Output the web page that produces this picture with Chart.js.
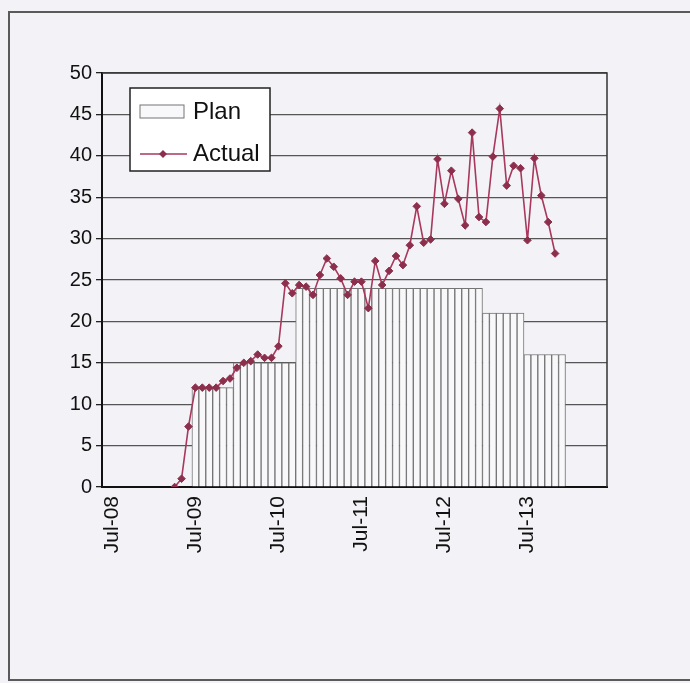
<!DOCTYPE html>
<html>
<head>
<meta charset="utf-8">
<script src="https://cdn.jsdelivr.net/npm/chart.js@4.4.1/dist/chart.umd.min.js"></script>
<style>
html, body { margin: 0; padding: 0; background: #f3f3f7; }
#wrap { position: relative; width: 690px; height: 683px; overflow: hidden; }
#frame { position: absolute; left: 8px; top: 11px; width: 700px; height: 670px; border: 2px solid #5a5a5a; box-sizing: border-box; }
#planChart { position: absolute; left: 0; top: 0; }
</style>
</head>
<body>
<div id="wrap">
  <div id="frame"></div>
  <canvas id="planChart" width="690" height="683"></canvas>
</div>
<script>
// months on the category axis, Jun-08 .. Jun-14
var months = [
    'Jun-08','Jul-08','Aug-08','Sep-08','Oct-08','Nov-08','Dec-08','Jan-09','Feb-09','Mar-09','Apr-09','May-09',
    'Jun-09','Jul-09','Aug-09','Sep-09','Oct-09','Nov-09','Dec-09','Jan-10','Feb-10','Mar-10','Apr-10','May-10',
    'Jun-10','Jul-10','Aug-10','Sep-10','Oct-10','Nov-10','Dec-10','Jan-11','Feb-11','Mar-11','Apr-11','May-11',
    'Jun-11','Jul-11','Aug-11','Sep-11','Oct-11','Nov-11','Dec-11','Jan-12','Feb-12','Mar-12','Apr-12','May-12',
    'Jun-12','Jul-12','Aug-12','Sep-12','Oct-12','Nov-12','Dec-12','Jan-13','Feb-13','Mar-13','Apr-13','May-13',
    'Jun-13','Jul-13','Aug-13','Sep-13','Oct-13','Nov-13','Dec-13','Jan-14','Feb-14','Mar-14','Apr-14','May-14',
    'Jun-14'
];

var shownTicks = ['Jul-08', 'Jul-09', 'Jul-10', 'Jul-11', 'Jul-12', 'Jul-13'];

var planValues = [
    null, null, null, null, null, null, null, null, null, null, null, null,
    null, 12, 12, 12, 12, 12, 12, 15, 15, 15, 15, 15,
    15, 15, 15, 15, 24, 24, 24, 24, 24, 24, 24, 24,
    24, 24, 24, 24, 24, 24, 24, 24, 24, 24, 24, 24,
    24, 24, 24, 24, 24, 24, 24, 21, 21, 21, 21, 21,
    21, 16, 16, 16, 16, 16, 16, null, null, null, null, null,
    null
];

var actualValues = [
    null, null, null, null, null, null, null, null, null, null, 0, 1,
    7.3, 12, 12, 12, 12, 12.8, 13.1, 14.4, 15, 15.2, 16, 15.6,
    15.6, 17, 24.6, 23.4, 24.4, 24.2, 23.2, 25.6, 27.6, 26.6, 25.2, 23.2,
    24.8, 24.8, 21.6, 27.3, 24.4, 26.1, 27.9, 26.8, 29.2, 33.9, 29.5, 29.9,
    39.6, 34.2, 38.2, 34.8, 31.6, 42.8, 32.6, 32.0, 39.9, 45.7, 36.4, 38.8,
    38.5, 29.8, 39.7, 35.2, 32.0, 28.2, null, null, null, null, null, null,
    null
];

var fontFamily = '"Liberation Sans", Arial, sans-serif';
var lineColor = '#a8385c';
var markerColor = '#8c2f4c';

// right/top border of the plot area
const plotBorder = {
    id: 'plotBorder',
    afterDatasetsDraw(chart) {
        const a = chart.chartArea, c = chart.ctx;
        c.save();
        c.strokeStyle = '#333';
        c.lineWidth = 1.5;
        c.beginPath();
        c.moveTo(a.left, a.top);
        c.lineTo(a.right, a.top);
        c.lineTo(a.right, a.bottom);
        c.stroke();
        c.restore();
    }
};

// boxed legend inside the plot, like the Excel one
const boxLegend = {
    id: 'boxLegend',
    afterDraw(chart) {
        const a = chart.chartArea, c = chart.ctx;
        const x = a.left + 28, y = a.top + 15, w = 140, h = 83;
        const plan = chart.data.datasets[0], actual = chart.data.datasets[1];
        c.save();
        c.fillStyle = '#ffffff';
        c.fillRect(x, y, w, h);
        c.strokeStyle = '#222';
        c.lineWidth = 1.5;
        c.strokeRect(x, y, w, h);

        c.fillStyle = plan.backgroundColor;
        c.fillRect(x + 10, y + 17, 44, 13);
        c.strokeStyle = plan.borderColor;
        c.lineWidth = 1;
        c.strokeRect(x + 10, y + 17, 44, 13);

        c.strokeStyle = actual.borderColor;
        c.lineWidth = 1.6;
        c.beginPath();
        c.moveTo(x + 10, y + 66);
        c.lineTo(x + 57, y + 66);
        c.stroke();
        c.fillStyle = actual.pointBackgroundColor;
        c.beginPath();
        c.moveTo(x + 33, y + 62);
        c.lineTo(x + 37, y + 66);
        c.lineTo(x + 33, y + 70);
        c.lineTo(x + 29, y + 66);
        c.closePath();
        c.fill();

        c.fillStyle = '#111';
        c.font = '24px ' + fontFamily;
        c.textBaseline = 'middle';
        c.textAlign = 'left';
        c.fillText(plan.label, x + 63, y + 24);
        c.fillText(actual.label, x + 63, y + 66);
        c.restore();
    }
};

const options = {
    responsive: false,
    animation: false,
    layout: {
        padding: { left: 0, top: 73, right: 83, bottom: 0 }
    },
    plugins: {
        legend: { display: false },
        tooltip: { enabled: false }
    },
    scales: {
        x: {
            grid: { display: false, drawTicks: false },
            border: { display: true, color: '#111', width: 2 },
            ticks: {
                autoSkip: false,
                minRotation: 90,
                maxRotation: 90,
                padding: 9,
                color: '#111',
                font: { family: fontFamily, size: 21 },
                callback: function (value) {
                    var l = this.getLabelForValue(value);
                    return shownTicks.indexOf(l) >= 0 ? l : '';
                }
            },
            afterFit: function (scale) { scale.height = 196; }
        },
        y: {
            min: 0,
            max: 50,
            grid: { color: '#555555', lineWidth: 1.3, tickLength: 6, tickColor: '#222' },
            border: { display: true, color: '#111', width: 2 },
            ticks: {
                stepSize: 5,
                padding: 4,
                color: '#111',
                font: { family: fontFamily, size: 20 }
            },
            afterFit: function (scale) { scale.width = 102; }
        }
    }
};

var ctx = document.getElementById('planChart').getContext('2d');

var myChart = new Chart(ctx, {
    type: 'bar',
    data: {
        labels: months,
        datasets: [{
            label: 'Plan',
            data: planValues,
            backgroundColor: '#f8f8fa',
            borderColor: '#747474',
            borderWidth: 1,
            barPercentage: 1,
            categoryPercentage: 1,
            order: 1
        }, {
            type: 'line',
            label: 'Actual',
            data: actualValues,
            borderColor: lineColor,
            borderWidth: 1.6,
            pointStyle: 'rectRot',
            pointRadius: 3.8,
            pointBackgroundColor: markerColor,
            pointBorderColor: markerColor,
            pointBorderWidth: 1,
            tension: 0,
            order: 0
        }]
    },
    options: options,
    plugins: [plotBorder, boxLegend]
});
</script>
</body>
</html>
